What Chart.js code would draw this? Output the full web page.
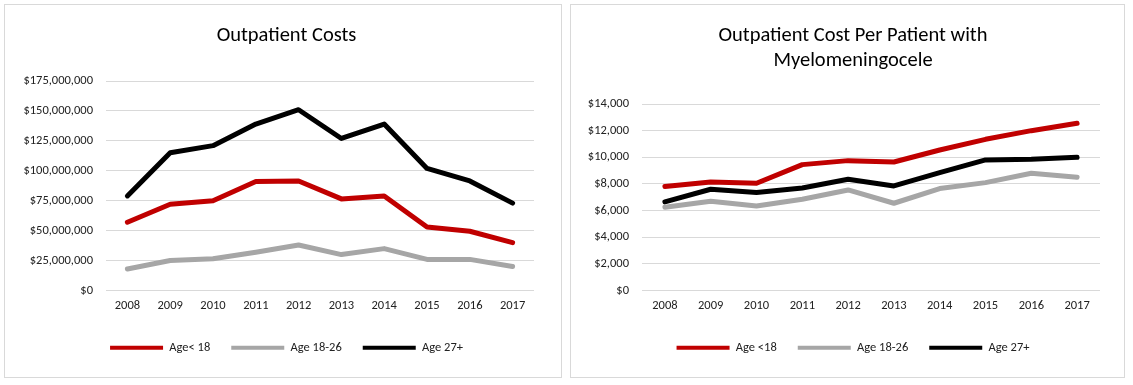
<!DOCTYPE html>
<html>
<head>
<meta charset="utf-8">
<script src="https://cdn.jsdelivr.net/npm/chart.js@4.4.0/dist/chart.umd.min.js"></script>
<style>
    body { margin: 0; background: #fff; }
    .box { position: absolute; top: 4px; height: 374px; border: 1.5px solid #d9d9d9; box-sizing: border-box; }
    canvas { position: absolute; }
</style>
</head>
<body>
<div class="box" style="left:4px; width:558px;"></div>
<div class="box" style="left:570px; width:555px;"></div>
<canvas id="costGraph" width="558" height="374" style="left:4px; top:4px;"></canvas>
<canvas id="perPatientGraph" width="555" height="374" style="left:570px; top:4px;"></canvas>
<script>
// annees
const years = ["2008", "2009", "2010", "2011", "2012", "2013", "2014", "2015", "2016", "2017"];

// Outpatient costs (en dollars)
const costUnder18 = [57000000, 72000000, 75000000, 91000000, 91500000, 76500000, 79000000, 53000000, 49500000, 40000000];
const cost18to26 = [18000000, 25000000, 26500000, 32000000, 38000000, 30000000, 35000000, 26000000, 26000000, 20000000];
const cost27plus = [79000000, 115000000, 121000000, 139000000, 151000000, 127000000, 139000000, 102000000, 91500000, 73000000];

// cost per patient (en dollars)
const perPatUnder18 = [7800, 8150, 8050, 9450, 9750, 9650, 10550, 11350, 12000, 12550];
const perPat18to26 = [6250, 6700, 6350, 6850, 7550, 6550, 7650, 8100, 8800, 8500];
const perPat27plus = [6650, 7600, 7350, 7700, 8350, 7850, 8850, 9800, 9850, 10000];

const RED = 'rgb(192, 0, 0)';
const GRAY = 'rgb(166, 166, 166)';
const BLACK = 'rgb(0, 0, 0)';
const FONT = "Carlito, Lato, sans-serif";

function dollars(v){
    return "$" + Number(v).toLocaleString('en-US');
}

function serie(label, data, color){
    return {
        label: label,
        data: data,
        borderColor: color,
        backgroundColor: color,
        borderWidth: 5,
        pointRadius: 0,
        tension: 0,
        borderCapStyle: 'round',
        borderJoinStyle: 'round'
    };
}

function options(title, yMax, yStep, padLeft, yWidth, rightWidth, titleBottom){
    return {
        responsive: false,
        animation: false,
        devicePixelRatio: 1,
        layout: { padding: { left: padLeft, right: 0, top: 19, bottom: 14 } },
        plugins: {
            title: {
                display: true,
                text: title,
                color: '#000',
                font: { family: FONT, size: 20.5, weight: 'normal', lineHeight: 1.22 },
                padding: { top: 0, bottom: titleBottom }
            },
            legend: {
                position: 'bottom',
                labels: {
                    boxWidth: 53,
                    boxHeight: 4,
                    padding: 21,
                    color: '#222',
                    font: { family: FONT, size: 12.5 },
                    generateLabels: function(chart){
                        let items = Chart.defaults.plugins.legend.labels.generateLabels(chart);
                        items.forEach(function(it){ it.lineWidth = 0; });
                        return items;
                    }
                }
            },
            tooltip: { enabled: false }
        },
        scales: {
            x: {
                offset: true,
                afterFit: function(axis){ axis.height = 30; },
                grid: { display: false, drawTicks: false },
                border: { display: false },
                ticks: { color: '#222', padding: 8, font: { family: FONT, size: 12.5 } }
            },
            y: {
                min: 0,
                max: yMax,
                afterFit: function(axis){ axis.width = yWidth; },
                grid: { color: '#d9d9d9', lineWidth: 1, drawTicks: false },
                border: { display: false },
                ticks: {
                    stepSize: yStep,
                    color: '#222',
                    padding: 13,
                    font: { family: FONT, size: 12.5 },
                    callback: function(v){ return dollars(v); }
                }
            },
            // axe vide a droite, juste pour la marge
            yVide: {
                position: 'right',
                afterFit: function(axis){ axis.width = rightWidth; },
                grid: { display: false, drawTicks: false },
                border: { display: false },
                ticks: { display: false }
            }
        }
    };
}

//---- Premier Graph ----
var costs = new Chart(document.getElementById('costGraph'),
{
    type: 'line',
    data: {
        labels: years,
        datasets: [
            serie("Age< 18", costUnder18, RED),
            serie("Age 18-26", cost18to26, GRAY),
            serie("Age 27+", cost27plus, BLACK)
        ]
    },
    options: options("Outpatient Costs", 175000000, 25000000, 7, 95, 28, 33)
});

//---- Deuxième Graph ----
var perPatient = new Chart(document.getElementById('perPatientGraph'),
{
    type: 'line',
    data: {
        labels: years,
        datasets: [
            serie("Age <18", perPatUnder18, RED),
            serie("Age 18-26", perPat18to26, GRAY),
            serie("Age 27+", perPat27plus, BLACK)
        ]
    },
    options: options(["Outpatient Cost Per Patient with", "Myelomeningocele"], 14000, 2000, 11, 61, 25, 31)
});
</script>
</body>
</html>
